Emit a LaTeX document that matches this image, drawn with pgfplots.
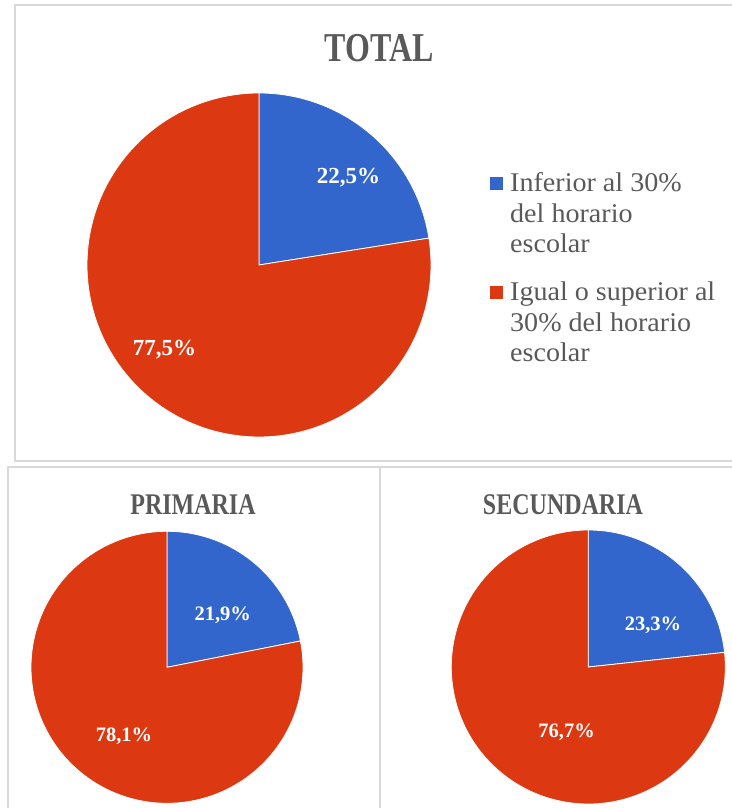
\documentclass[border=0pt]{standalone}
\usepackage{pgfplots}
\pgfplotsset{compat=1.18}
\usepackage{fontspec}
\setmainfont{Liberation Serif}
\definecolor{cblue}{HTML}{3366CC}
\definecolor{cred}{HTML}{DC3912}
\definecolor{ctext}{HTML}{595959}
\definecolor{cframe}{HTML}{D9D9D9}
% data (percent of first slice)
\def\vTotal{22.5}
\def\vPrim{21.9}
\def\vSec{23.3}
\pgfplotsset{
  pieaxis/.style={scale only axis, hide axis, xmin=-1, xmax=1, ymin=-1, ymax=1,
    anchor=center, clip=false},
}
\newcommand{\pie}[1]{%
  \addplot[fill=cblue, draw=white, line width=0.8pt, domain={90-3.6*#1}:90, samples=120, variable=\t]
    ({cos(\t)},{sin(\t)}) -- (axis cs:0,0) -- cycle;
  \addplot[fill=cred, draw=white, line width=0.8pt, domain=-270:{90-3.6*#1}, samples=300, variable=\t]
    ({cos(\t)},{sin(\t)}) -- (axis cs:0,0) -- cycle;
}
\newcommand{\legtxt}[1]{\scalebox{1.04}[1]{#1}}
\begin{document}
\begin{tikzpicture}
\useasboundingbox (0pt,0pt) rectangle (731pt,808pt);
% frames
\draw[cframe, line width=2pt] (745pt,802.5pt) -- (14.7pt,802.5pt) -- (14.7pt,347.3pt) -- (745pt,347.3pt);
\draw[cframe, line width=2pt] (8.3pt,-10pt) -- (8.3pt,341.3pt) -- (745pt,341.3pt);
\draw[cframe, line width=2pt] (380pt,-10pt) -- (380pt,341.3pt);
% titles
\node[ctext, font=\fontsize{41}{41}\selectfont\bfseries] at (379pt,760pt) {\scalebox{0.78}[1]{TOTAL}};
\node[ctext, font=\fontsize{30}{30}\selectfont\bfseries] at (193pt,303.5pt) {\scalebox{0.8}[1]{PRIMARIA}};
\node[ctext, font=\fontsize{30}{30}\selectfont\bfseries] at (563pt,303.5pt) {\scalebox{0.8}[1]{SECUNDARIA}};
% TOTAL pie
\begin{axis}[pieaxis, width=344pt, height=344pt, at={(259pt,543pt)}]
\pie{\vTotal}
\node[white, font=\fontsize{23}{23}\selectfont\bfseries] at (axis cs:0.52,0.508) {22,5\%};
\node[white, font=\fontsize{23}{23}\selectfont\bfseries] at (axis cs:-0.55,-0.494) {77,5\%};
\end{axis}
% PRIMARIA pie
\begin{axis}[pieaxis, width=272pt, height=272pt, at={(167pt,140.7pt)}]
\pie{\vPrim}
\node[white, font=\fontsize{20.5}{20.5}\selectfont\bfseries] at (axis cs:0.41,0.379) {21,9\%};
\node[white, font=\fontsize{20.5}{20.5}\selectfont\bfseries] at (axis cs:-0.316,-0.505) {78,1\%};
\end{axis}
% SECUNDARIA pie
\begin{axis}[pieaxis, width=274pt, height=274pt, at={(588.3pt,141pt)}]
\pie{\vSec}
\node[white, font=\fontsize{20.5}{20.5}\selectfont\bfseries] at (axis cs:0.472,0.307) {23,3\%};
\node[white, font=\fontsize{20.5}{20.5}\selectfont\bfseries] at (axis cs:-0.158,-0.474) {76,7\%};
\end{axis}
% legend
\fill[cblue] (490pt,617.5pt) rectangle (503pt,630.5pt);
\fill[cred] (490pt,508.5pt) rectangle (503pt,521.5pt);
\begin{scope}[every node/.style={ctext, anchor=base west, inner sep=0pt, font=\fontsize{27}{27}\selectfont}]
\node at (510pt,616pt) {\legtxt{Inferior al 30\%}};
\node at (510pt,585.5pt) {\legtxt{del horario}};
\node at (510pt,555pt) {\legtxt{escolar}};
\node at (510pt,507pt) {\legtxt{Igual o superior al}};
\node at (510pt,476.5pt) {\legtxt{30\% del horario}};
\node at (510pt,446pt) {\legtxt{escolar}};
\end{scope}
\end{tikzpicture}
\end{document}
